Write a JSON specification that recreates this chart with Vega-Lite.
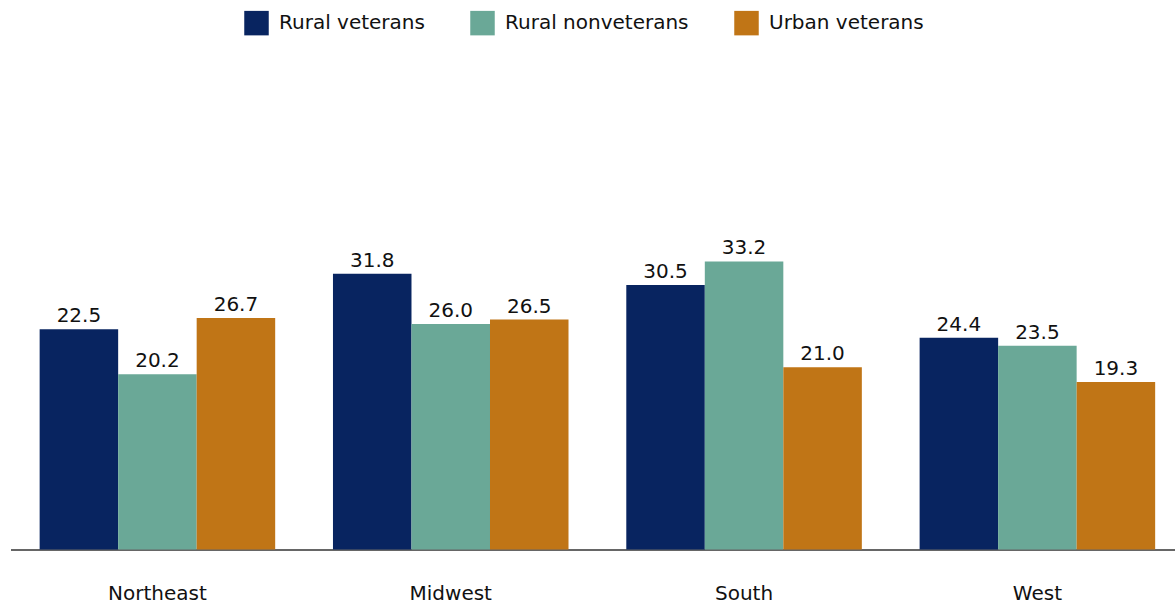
{
  "$schema": "https://vega.github.io/schema/vega-lite/v6.json",
  "width": 1164.5,
  "height": 347,
  "autosize": {"type": "none"},
  "padding": {"left": 10.5, "top": 202.5, "right": 0, "bottom": 54.5},
  "background": "white",
  "config": {
    "view": {"stroke": null},
    "font": "DejaVu Sans"
  },
  "data": {
    "values": [
      {"region": "Northeast", "group": "Rural veterans", "bar": 25.4, "label": "22.5"},
      {"region": "Northeast", "group": "Rural nonveterans", "bar": 20.2, "label": "20.2"},
      {"region": "Northeast", "group": "Urban veterans", "bar": 26.7, "label": "26.7"},
      {"region": "Midwest", "group": "Rural veterans", "bar": 31.8, "label": "31.8"},
      {"region": "Midwest", "group": "Rural nonveterans", "bar": 26.0, "label": "26.0"},
      {"region": "Midwest", "group": "Urban veterans", "bar": 26.5, "label": "26.5"},
      {"region": "South", "group": "Rural veterans", "bar": 30.5, "label": "30.5"},
      {"region": "South", "group": "Rural nonveterans", "bar": 33.2, "label": "33.2"},
      {"region": "South", "group": "Urban veterans", "bar": 21.0, "label": "21.0"},
      {"region": "West", "group": "Rural veterans", "bar": 24.4, "label": "24.4"},
      {"region": "West", "group": "Rural nonveterans", "bar": 23.5, "label": "23.5"},
      {"region": "West", "group": "Urban veterans", "bar": 19.3, "label": "19.3"}
    ]
  },
  "encoding": {
    "x": {
      "field": "region",
      "type": "nominal",
      "sort": ["Northeast", "Midwest", "South", "West"],
      "scale": {"paddingInner": 0.197, "paddingOuter": 0.0835, "align": 0.595},
      "axis": {
        "title": null,
        "labelAngle": 0,
        "labelFontSize": 20,
        "labelColor": "#111111",
        "labelFont": "DejaVu Sans",
        "labelPadding": 34,
        "ticks": false,
        "domain": true,
        "domainColor": "#666666",
        "domainWidth": 2,
        "grid": false
      }
    },
    "xOffset": {
      "field": "group",
      "type": "nominal",
      "sort": ["Rural veterans", "Rural nonveterans", "Urban veterans"],
      "scale": {"paddingInner": 0, "paddingOuter": 0}
    },
    "y": {
      "field": "bar",
      "type": "quantitative",
      "scale": {"domain": [0, 40], "nice": false, "zero": true},
      "axis": null
    }
  },
  "layer": [
    {
      "mark": {"type": "bar"},
      "encoding": {
        "color": {
          "field": "group",
          "type": "nominal",
          "sort": ["Rural veterans", "Rural nonveterans", "Urban veterans"],
          "scale": {
            "domain": ["Rural veterans", "Rural nonveterans", "Urban veterans"],
            "range": ["#082460", "#6AA897", "#C07516"]
          },
          "legend": {
            "title": null,
            "orient": "none",
            "direction": "horizontal",
            "legendX": 233.5,
            "legendY": -192,
            "symbolType": "square",
            "symbolSize": 600,
            "symbolStrokeWidth": 0,
            "symbolOpacity": 1,
            "labelFontSize": 20,
            "labelFont": "DejaVu Sans",
            "labelColor": "#111111",
            "labelOffset": 10,
            "labelLimit": 400,
            "columnPadding": 45
          }
        }
      }
    },
    {
      "mark": {"type": "text", "baseline": "alphabetic", "dy": -7, "fontSize": 20, "font": "DejaVu Sans", "color": "#111111"},
      "encoding": {
        "text": {"field": "label", "type": "nominal"}
      }
    }
  ]
}
